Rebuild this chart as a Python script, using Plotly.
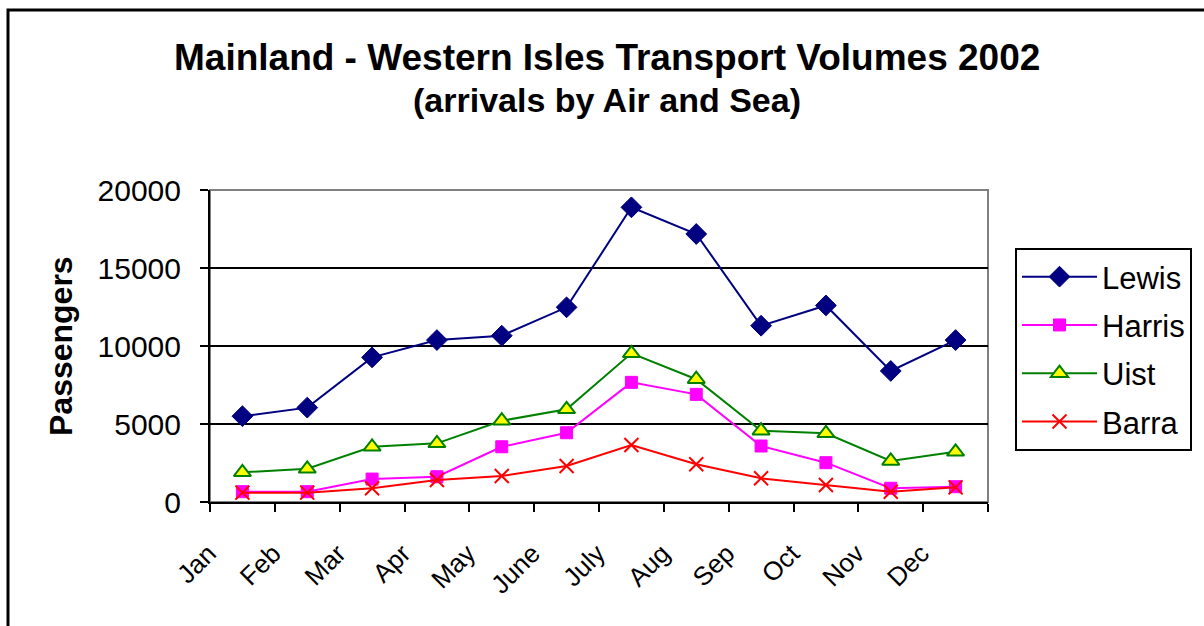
import plotly.graph_objects as go

months = ["Jan", "Feb", "Mar", "Apr", "May", "June", "July", "Aug", "Sep", "Oct", "Nov", "Dec"]
lewis = [5500, 6050, 9270, 10380, 10660, 12480, 18890, 17180, 11300, 12600, 8400, 10380]
harris = [660, 660, 1470, 1620, 3540, 4440, 7670, 6900, 3590, 2520, 880, 980]
uist = [1900, 2130, 3540, 3760, 5210, 5940, 9530, 7870, 4570, 4400, 2630, 3220]
barra = [600, 600, 880, 1410, 1670, 2310, 3650, 2420, 1520, 1090, 660, 940]

W, H = 1204, 626
L, R, T, B = 210, 988, 190, 502

def px(x):
    return (x - L) / (R - L)

def py(y):
    return (B - y) / (B - T)

fig = go.Figure()
series = [
    ("Lewis", lewis, dict(color="#000080", width=2), dict(symbol="diamond", size=16, color="#000080", line=dict(color="#000080", width=1))),
    ("Harris", harris, dict(color="#FF00FF", width=2), dict(symbol="square", size=12, color="#FF00FF", line=dict(color="#FF00FF", width=1))),
    ("Uist", uist, dict(color="#008000", width=2), dict(symbol="triangle-up", size=15, color="#FFFF00", line=dict(color="#008000", width=2))),
    ("Barra", barra, dict(color="#FF0000", width=2), dict(symbol="x-thin", size=14, color="#FF0000", line=dict(color="#FF0000", width=2))),
]
for name, vals, ln, mk in series:
    fig.add_trace(go.Scatter(x=months, y=vals, name=name, mode="lines+markers",
                             line=ln, marker=mk, legendgroup=name, cliponaxis=False))

fig.update_layout(
    width=W, height=H,
    margin=dict(l=L, r=W - R, t=T, b=H - B, pad=0),
    paper_bgcolor="white", plot_bgcolor="white",
    font=dict(family="Liberation Sans, Arial, sans-serif", color="black", size=26),
    showlegend=True,
    legend=dict(x=px(1015), y=py(248), xanchor="left", yanchor="top",
                bordercolor="black", borderwidth=2, bgcolor="white",
                font=dict(size=31), tracegroupgap=5, itemwidth=75),
    xaxis=dict(type="category", range=[-0.5, 11.5], tickson="boundaries",
               ticks="outside", ticklen=8, tickwidth=2, tickcolor="black",
               showline=True, linecolor="black", linewidth=2, showgrid=False,
               tickangle=-45, tickfont=dict(size=26), ticklabelstandoff=24,
               ticklabelshift=-34),
    yaxis=dict(range=[0, 20000], tickvals=[0, 5000, 10000, 15000, 20000],
               ticktext=["0", "5000", "10000", "15000", "20000"],
               ticks="outside", ticklen=8, tickwidth=2, tickcolor="black",
               showline=True, linecolor="black", linewidth=2,
               showgrid=True, gridcolor="black", gridwidth=2, zeroline=False,
               tickfont=dict(size=30), ticklabelstandoff=13),
    shapes=[
        dict(type="rect", xref="paper", yref="paper", x0=0, x1=1, y0=0, y1=1,
             line=dict(color="#808080", width=2), layer="below"),
        dict(type="rect", xref="paper", yref="paper", x0=px(8), x1=px(1215), y0=py(640), y1=py(10),
             line=dict(color="black", width=3), layer="below"),
    ],
    annotations=[
        dict(text="<b>Mainland - Western Isles Transport Volumes 2002</b>", xref="paper", yref="paper",
             x=px(607), y=py(57), xanchor="center", yanchor="middle", showarrow=False,
             font=dict(size=37)),
        dict(text="<b>(arrivals by Air and Sea)</b>", xref="paper", yref="paper",
             x=px(607), y=py(100), xanchor="center", yanchor="middle", showarrow=False,
             font=dict(size=34)),
        dict(text="<b>Passengers</b>", xref="paper", yref="paper",
             x=px(61), y=py(346), xanchor="center", yanchor="middle", showarrow=False,
             textangle=-90, font=dict(size=32)),
    ],
)

fig.write_html("out.html", config={"displayModeBar": False},
               post_script="document.body.style.margin='0';document.body.style.overflow='hidden';")
